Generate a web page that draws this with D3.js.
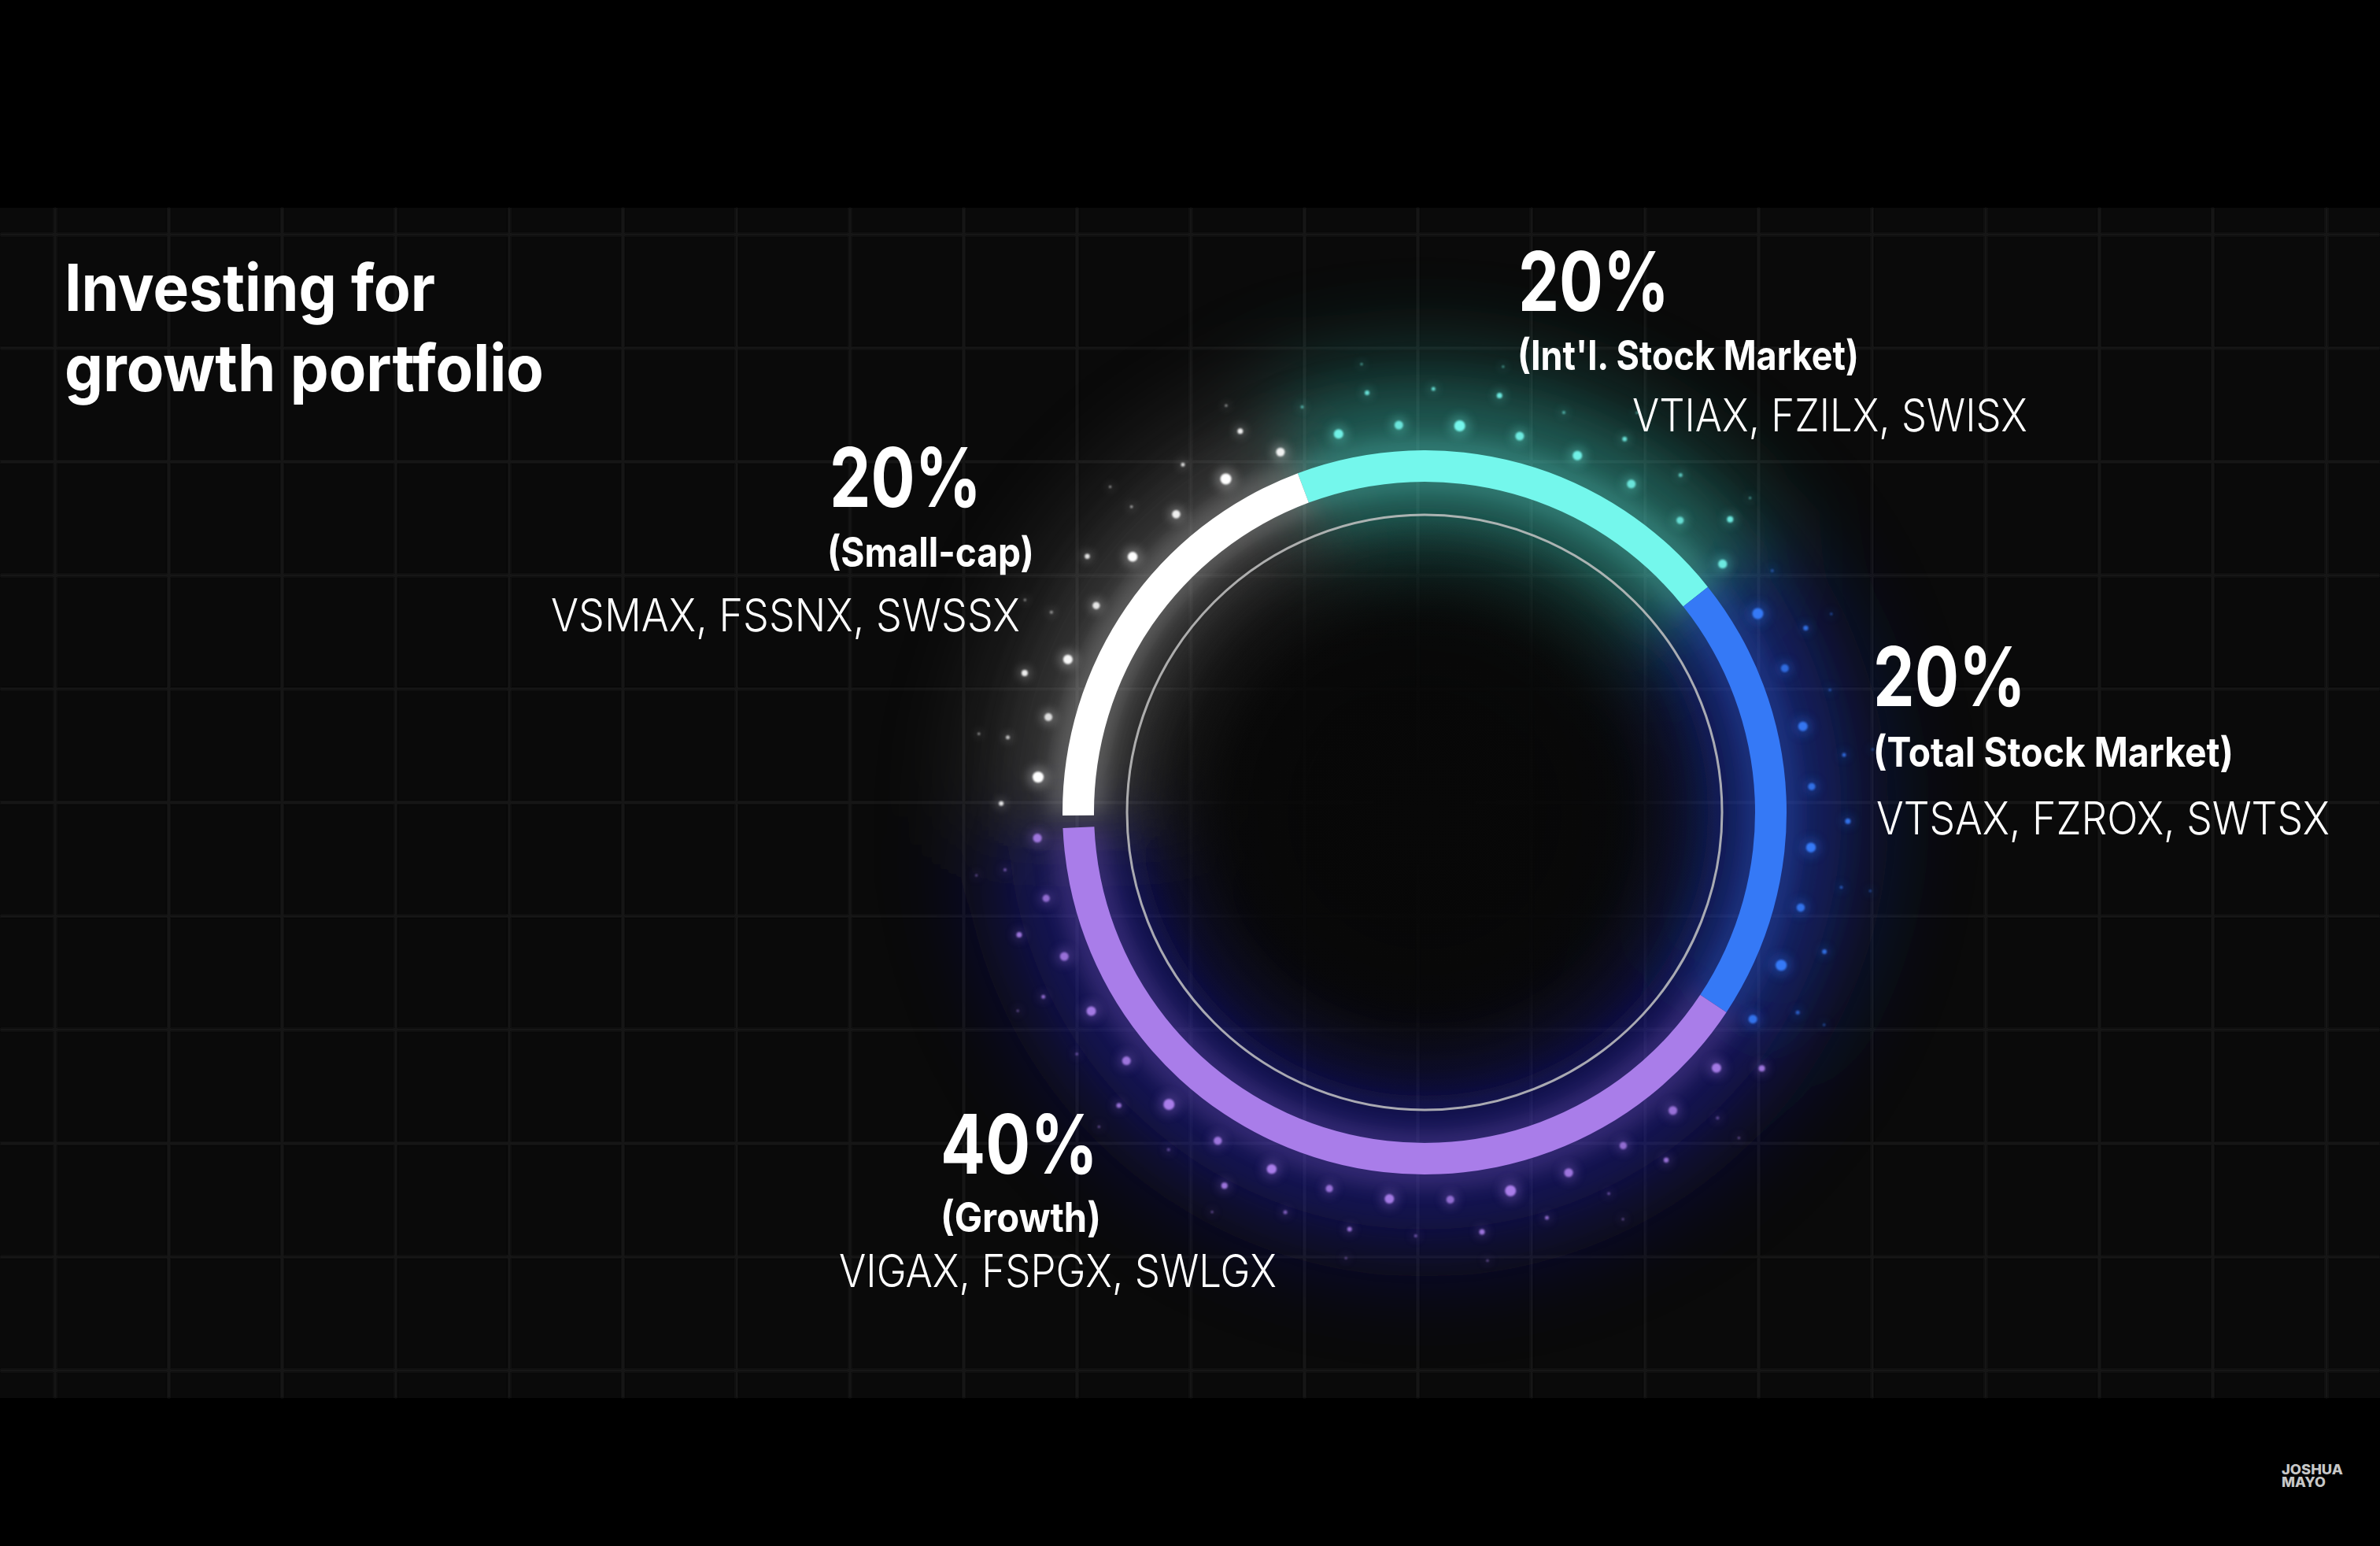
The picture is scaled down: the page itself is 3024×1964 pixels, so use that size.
<!DOCTYPE html>
<html><head><meta charset="utf-8">
<script src="https://cdn.jsdelivr.net/npm/d3@7"></script>
<style>html,body{margin:0;padding:0;background:#000;} svg{display:block}</style>
</head><body>
<svg id="chart" width="3024" height="1964"></svg>
<script>
// ---------- data ----------
const categories = ["Int'l. Stock Market", "Total Stock Market", "Growth", "Small-cap"];
const shares = [20, 20, 40, 20];
const funds = ["VTIAX, FZILX, SWISX", "VTSAX, FZROX, SWTSX", "VIGAX, FSPGX, SWLGX", "VSMAX, FSSNX, SWSSX"];
const titleLines = ["Investing for", "growth portfolio"];
const brandLines = ["JOSHUA", "MAYO"];

// ---------- styles / layout ----------
const segColors  = ["#74F7EC", "#3579F6", "#A97DE9", "#FFFFFF"];
const glowColors = ["#3fd8c8", "#2242e8", "#2a1cc8", "#a0a0a0"];
const W = 3024, H = 1964, cx = 1810, cy = 1032;
const deg = Math.PI / 180;
const labelLayout = [
  {px:1929, py:395, pw:192, sx:1928, sy:470, sw:434, fx:2074, fy:548, fw:502},
  {px:2380, py:897, pw:194, sx:2380, sy:974, sw:458, fx:2384, fy:1060, fw:576},
  {px:1195, py:1491, pw:200, sx:1195, sy:1565, sw:204, fx:1066, fy:1635, fw:556},
  {px:1054, py:644, pw:193, sx:1051, sy:720, sw:263, fx:700, fy:802, fw:596}
];

const svg = d3.select("#chart");
const defs = svg.append("defs");
function blurFilter(id, sd) {
  const f = defs.append("filter").attr("id", id)
    .attr("filterUnits", "userSpaceOnUse")
    .attr("x", -W).attr("y", -H).attr("width", 3 * W).attr("height", 3 * H);
  f.append("feGaussianBlur").attr("stdDeviation", sd);
}
blurFilter("blurXL", 55);
blurFilter("blurL", 28);
blurFilter("blurM", 12);
blurFilter("blurD", 6);
blurFilter("blurS", 1.2);
blurFilter("blurGrid", 1);

// ---------- background ----------
svg.append("rect").attr("width", W).attr("height", H).attr("fill", "#000");
const panelTop = 264, panelBot = 1776;
svg.append("rect").attr("x", 0).attr("y", panelTop).attr("width", W).attr("height", panelBot - panelTop).attr("fill", "#0a0a0a");
const gridStep = 144.3;
const gx = d3.range(70, W, gridStep);
const gy = d3.range(298, panelBot, gridStep);
const grid = svg.append("g").attr("stroke", "#141414").attr("stroke-width", 4).attr("filter", "url(#blurGrid)");
grid.selectAll("line.v").data(gx).join("line").attr("class", "v")
  .attr("x1", d => d).attr("x2", d => d).attr("y1", panelTop).attr("y2", panelBot);
grid.selectAll("line.h").data(gy).join("line").attr("class", "h")
  .attr("y1", d => d).attr("y2", d => d).attr("x1", 0).attr("x2", W);

// ---------- pie ----------
const start = -20.5 * deg;
const pie = d3.pie().sort(null).value(d => d).startAngle(start).endAngle(start + 2 * Math.PI);
const arcsData = pie(shares).map((d, i) => ({...d, i}));
const gapAngle = 2 * deg;
arcsData[3].startAngle += gapAngle;

const ringG = svg.append("g").attr("transform", `translate(${cx},${cy})`);

// glows
const glowXL = d3.arc().innerRadius(270).outerRadius(590);
ringG.append("g").attr("filter", "url(#blurXL)")
  .selectAll("path").data(arcsData).join("path")
  .attr("d", glowXL).attr("fill", d => glowColors[d.i]).attr("opacity", d => d.i === 3 ? 0.15 : 0.24);
const glowL = d3.arc().innerRadius(360).outerRadius(530);
ringG.append("g").attr("filter", "url(#blurL)")
  .selectAll("path").data(arcsData).join("path")
  .attr("d", glowL).attr("fill", d => glowColors[d.i]).attr("opacity", d => d.i === 3 ? 0.14 : 0.2);
const glowM = d3.arc().innerRadius(405).outerRadius(478);
ringG.append("g").attr("filter", "url(#blurM)")
  .selectAll("path").data(arcsData).join("path")
  .attr("d", glowM).attr("fill", d => segColors[d.i]).attr("opacity", 0.2);

// keep middle dark
const centerGrad = defs.append("radialGradient").attr("id", "centerGrad");
centerGrad.append("stop").attr("offset", "0%").attr("stop-color", "#080808").attr("stop-opacity", 1);
centerGrad.append("stop").attr("offset", "65%").attr("stop-color", "#080808").attr("stop-opacity", 0.85);
centerGrad.append("stop").attr("offset", "100%").attr("stop-color", "#080808").attr("stop-opacity", 0);
ringG.append("circle").attr("r", 372).attr("fill", "url(#centerGrad)");

// thin inner circle
ringG.append("circle").attr("r", 378).attr("fill", "none")
  .attr("stroke", "#c4c4c4").attr("stroke-width", 3).attr("opacity", 0.85);

// main ring
const ringArc = d3.arc().innerRadius(420).outerRadius(460);
ringG.append("g").selectAll("path").data(arcsData).join("path")
  .attr("d", ringArc).attr("fill", d => segColors[d.i]);

// decorative dots
function segAt(a) {
  let t = a;
  while (t < start) t += 2 * Math.PI;
  while (t >= start + 2 * Math.PI) t -= 2 * Math.PI;
  const s = arcsData.find(d => t >= d.startAngle - gapAngle && t < d.endAngle);
  return s ? s.i : 3;
}
const innerSizes = [7, 5.5, 6, 5.5, 4.6, 5.6, 7, 5, 6, 4.6, 6.2, 5.2];
const innerOpac  = [1, 0.9, 0.95, 0.85, 0.8, 0.9, 1, 0.8, 0.95, 0.85, 1, 0.9];
const outerSizes = [2.5, 3.5, 2, 3, 2.5, 4, 2, 3.2, 1.8];
const outerOpac  = [0.8, 0.9, 0.6, 0.85, 0.7, 0.9, 0.5, 0.85, 0.6];
const dots = [];
d3.range(40).forEach(k => {
  const a = (5.2 + 9 * k) * deg;
  dots.push({a, r: 493, s: innerSizes[k % innerSizes.length], o: innerOpac[k % innerOpac.length]});
});
d3.range(40).forEach(k => {
  const a = (1.2 + 9 * k) * deg;
  dots.push({a, r: 538, s: outerSizes[k % outerSizes.length], o: outerOpac[k % outerOpac.length]});
});
d3.range(20).forEach(k => {
  const a = (10 + 18 * k) * deg;
  dots.push({a, r: 575, s: 1.6, o: 0.55});
});
const dotG = ringG.append("g");
dotG.append("g").attr("filter", "url(#blurD)").selectAll("circle").data(dots).join("circle")
  .attr("cx", d => d.r * Math.sin(d.a)).attr("cy", d => -d.r * Math.cos(d.a))
  .attr("r", d => d.s * 2).attr("fill", d => segColors[segAt(d.a)]).attr("opacity", 0.25);
dotG.append("g").attr("filter", "url(#blurS)").selectAll("circle").data(dots).join("circle")
  .attr("cx", d => d.r * Math.sin(d.a)).attr("cy", d => -d.r * Math.cos(d.a))
  .attr("r", d => d.s).attr("fill", d => segColors[segAt(d.a)]).attr("opacity", d => d.o);

// ---------- text ----------
const font = "Inter, 'Noto Sans', sans-serif";
// place text at (x, baseline y) and scale it horizontally to the reference width
function fitText(sel, x, y, w) {
  sel.each(function(d, i) {
    const t = d3.select(this);
    const X = x(d, i), Y = y(d, i), target = w(d, i);
    const nat = this.getComputedTextLength();
    const k = nat > 0 ? target / nat : 1;
    t.attr("x", 0).attr("y", 0).attr("transform", `translate(${X},${Y}) scale(${k},1)`);
  });
}
const tg = svg.append("g").attr("fill", "#ffffff").attr("font-family", font);
const titleW = [471, 609];
tg.selectAll("text.title").data(titleLines).join("text").attr("class", "title")
  .attr("font-size", 82).attr("font-weight", 650)
  .text(d => d)
  .call(fitText, () => 82, (d, i) => 395 + i * 102, (d, i) => titleW[i]);

const lab = tg.selectAll("g.lab").data(arcsData).join("g").attr("class", "lab");
lab.append("text").attr("font-size", 104).attr("font-weight", 650)
  .text(d => d.data + "%")
  .call(fitText, d => labelLayout[d.i].px, d => labelLayout[d.i].py, d => labelLayout[d.i].pw);
lab.append("text").attr("font-size", 52).attr("font-weight", 700)
  .text(d => "(" + categories[d.i] + ")")
  .call(fitText, d => labelLayout[d.i].sx, d => labelLayout[d.i].sy, d => labelLayout[d.i].sw);
lab.append("text").attr("font-size", 58).attr("font-weight", 300)
  .text(d => funds[d.i])
  .call(fitText, d => labelLayout[d.i].fx, d => labelLayout[d.i].fy, d => labelLayout[d.i].fw);

const brandW = [78, 56];
svg.append("g").attr("font-family", font).attr("fill", "#c8c8c8")
  .selectAll("text").data(brandLines).join("text")
  .attr("font-size", 17).attr("font-weight", 800)
  .text(d => d)
  .call(fitText, () => 2899, (d, i) => 1873 + i * 16, (d, i) => brandW[i]);
</script>
</body></html>
